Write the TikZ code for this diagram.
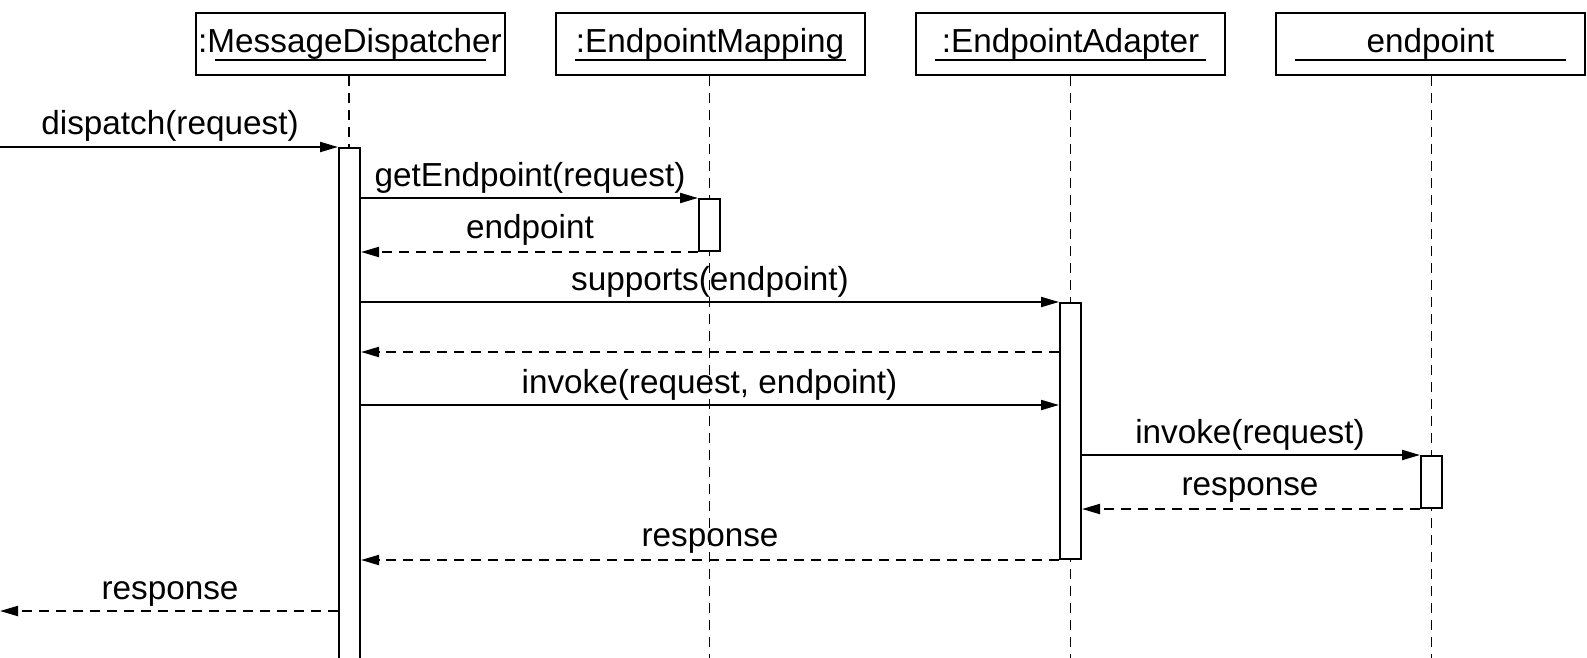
\documentclass[tikz,border=0pt]{standalone}
\usepackage{fontspec}
\setmainfont{Liberation Sans}
\usetikzlibrary{arrows.meta}
\begin{document}
\begin{tikzpicture}[x=1pt,y=-1pt,
  every node/.style={font=\fontsize{33.3}{40}\selectfont},
  hdr/.style={draw,line width=2pt,minimum width=309pt,minimum height=62pt,inner sep=0pt,text height=24pt,text depth=7pt},
  uline/.style={line width=1.8pt},
  life/.style={line width=1.8pt,dash pattern=on 10pt off 7pt},
  act/.style={draw,fill=white,line width=2pt,minimum width=21pt,inner sep=0pt,anchor=north},
  msg/.style={line width=2pt,-{Triangle[length=18pt,width=10pt]}},
  ret/.style={msg,dash pattern=on 10pt off 7pt},
  lbl/.style={anchor=base,inner sep=0pt}]
\useasboundingbox (0,0) rectangle (1587,658);
% headers
\node[hdr] (md) at (350,44) {:MessageDispatcher};
\node[hdr] (em) at (710,44) {:EndpointMapping};
\node[hdr] (ea) at (1070.5,44) {:EndpointAdapter};
\node[hdr] (ep) at (1430.5,44) {endpoint};
\foreach \n in {md,em,ea,ep}{
  \draw[uline] ([xshift=20pt,yshift=16pt]\n.south west) -- ([xshift=-20pt,yshift=16pt]\n.south east);
}
% lifelines
\coordinate (mdend) at (349,658);
\coordinate (emend) at (709.5,658);
\coordinate (eaend) at (1070.5,658);
\coordinate (epend) at (1431.5,658);
\draw[life] (md.south -| mdend) -- (mdend);
\draw[life] (em.south -| emend) -- (emend);
\draw[life] (ea.south -| eaend) -- (eaend);
\draw[life] (ep.south -| epend) -- (epend);
% activations
\node[act,minimum height=530pt] (a1) at (349.5,147) {};
\node[act,minimum height=52pt] (a2) at (709.5,198) {};
\node[act,minimum height=256pt] (a3) at (1070.5,302) {};
\node[act,minimum height=52pt] (a4) at (1431.5,455) {};
% free ends
\coordinate (in) at (0,147);
\coordinate (out) at (0,611);
\coordinate (r2) at (1060,352);
\coordinate (r3) at (1060,405);
% messages
\draw[msg] (in) -- (a1.north west);
\node[lbl] (l1) at (170,135) {dispatch(request)};
\draw[msg] (a1.east |- a2.north) -- (a2.north west);
\node[lbl] (l2) at (530,186) {getEndpoint(request)};
\draw[ret] (a2.south west) -- (a1.east |- a2.south);
\node[lbl] (l3) at (530,238) {endpoint};
\draw[msg] (a1.east |- a3.north) -- (a3.north west);
\node[lbl] (l4) at (710,290) {supports(endpoint)};
\draw[ret] (a3.west |- r2) -- (a1.east |- r2);
\draw[msg] (a1.east |- r3) -- (a3.west |- r3);
\node[lbl] (l5) at (709.5,393) {invoke(request, endpoint)};
\draw[msg] (a3.east |- a4.north) -- (a4.north west);
\node[lbl] (l6) at (1250,443) {invoke(request)};
\draw[ret] (a4.south west) -- (a3.east |- a4.south);
\node[lbl] (l7) at (1250,495) {response};
\draw[ret] (a3.south west) -- (a1.east |- a3.south);
\node[lbl] (l8) at (710,546) {response};
\draw[ret] (a1.west |- out) -- (out);
\node[lbl] (l9) at (170,599) {response};
\end{tikzpicture}
\end{document}
